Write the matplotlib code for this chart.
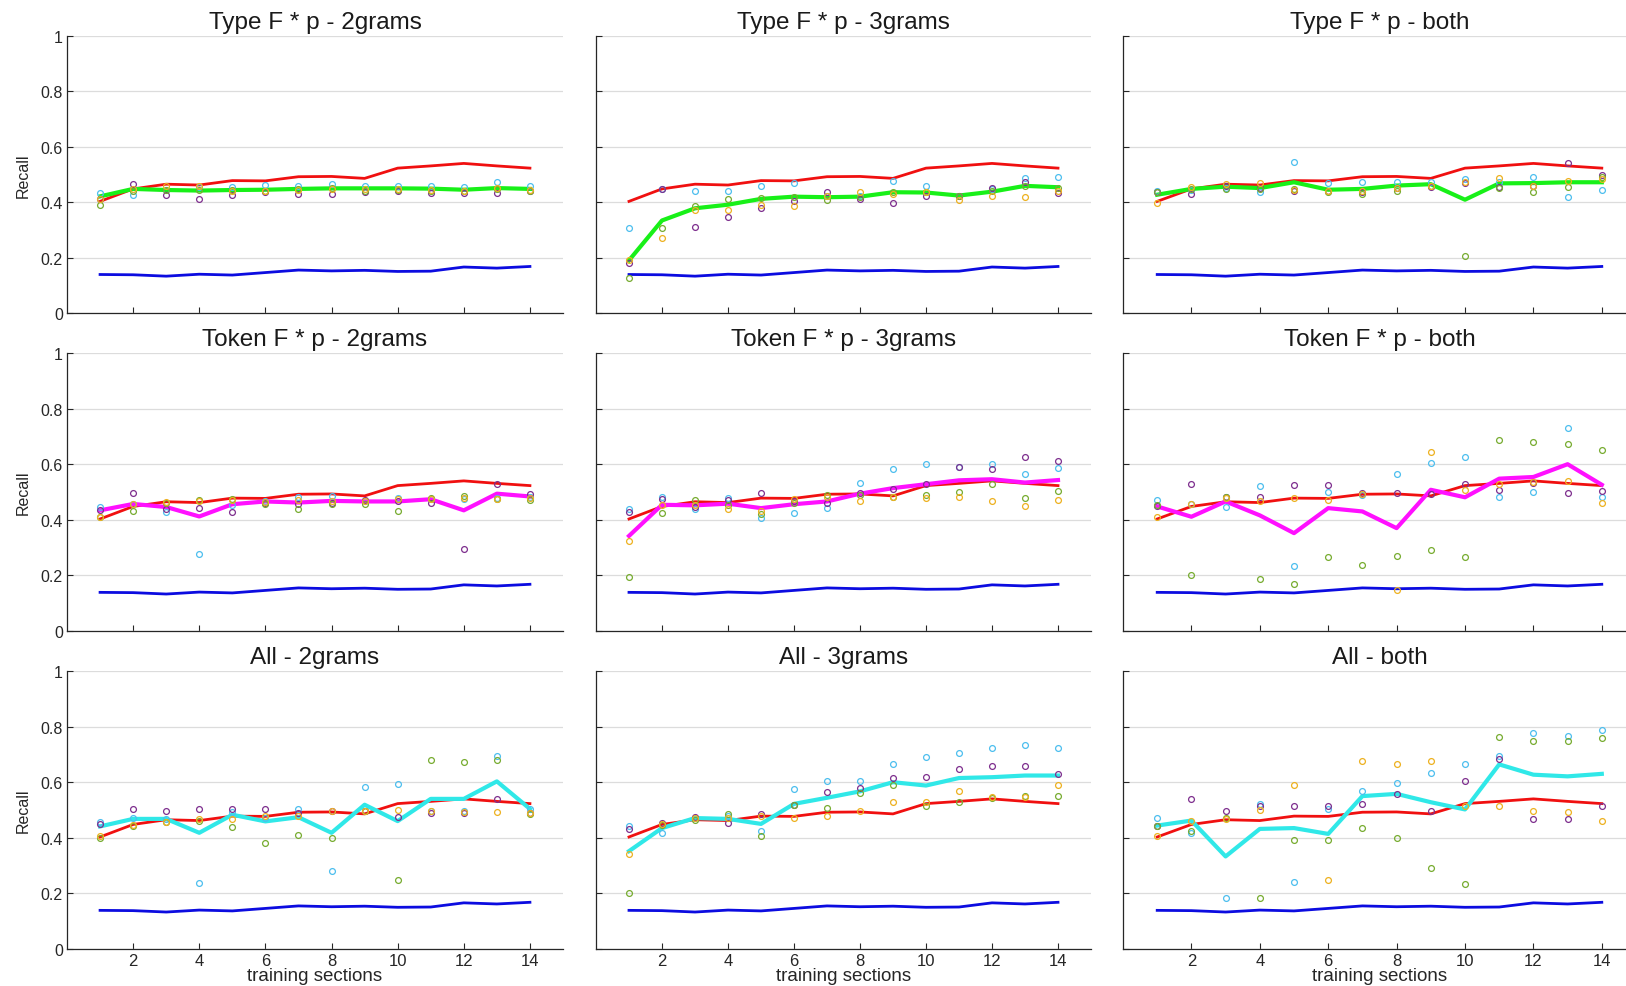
import matplotlib
matplotlib.use("Agg")
import matplotlib.pyplot as plt
import numpy as np

plt.rcParams['font.family'] = ['Liberation Sans', 'DejaVu Sans']

# ---------------- data ----------------
sections = list(range(1, 15))

baseline_red = [.403, .448, .465, .462, .478, .477, .492, .493, .486, .523, .531, .540, .531, .523]
baseline_blue = [.139, .138, .133, .140, .137, .146, .155, .152, .154, .150, .151, .166, .162, .168]

titles = ["Type F * p - 2grams", "Type F * p - 3grams", "Type F * p - both",
          "Token F * p - 2grams", "Token F * p - 3grams", "Token F * p - both",
          "All - 2grams", "All - 3grams", "All - both"]

# main (mean) lines
type_2g_mean = [.421, .448, .444, .442, .444, .445, .448, .450, .450, .450, .449, .445, .451, .448]
type_3g_mean = [.19, .334, .378, .391, .412, .42, .418, .42, .436, .435, .424, .438, .459, .454]
type_both_mean = [.427, .448, .456, .451, .472, .445, .448, .46, .465, .409, .468, .469, .472, .472]
tok_2g_mean = [.434, .457, .446, .412, .456, .466, .462, .468, .466, .466, .474, .434, .494, .484]
tok_3g_mean = [.342, .454, .452, .458, .442, .456, .466, .494, .514, .528, .542, .546, .534, .543]
tok_both_mean = [.448, .411, .466, .416, .352, .442, .43, .37, .508, .481, .548, .554, .6, .526]
all_2g_mean = [.441, .468, .468, .418, .483, .459, .474, .418, .519, .46, .54, .54, .603, .504]
all_3g_mean = [.352, .435, .471, .468, .45, .522, .544, .567, .6, .588, .615, .618, .624, .624]
all_both_mean = [.444, .462, .333, .432, .435, .414, .55, .558, .528, .502, .664, .627, .621, .63]

# individual runs (light blue, purple, green, orange)
type_2g_lb = [.432, .426, .445, .454, .456, .463, .46, .465, .46, .458, .46, .454, .474, .457]
type_2g_pu = [.412, .465, .426, .412, .426, .436, .43, .43, .438, .442, .433, .433, .433, .442]
type_2g_gr = [.389, .44, .445, .445, .444, .44, .448, .45, .442, .445, .442, .442, .448, .44]
type_2g_or = [.41, .448, .46, .46, .442, .442, .445, .448, .448, .448, .445, .44, .45, .445]

type_3g_lb = [.306, .448, .442, .442, .46, .468, .424, .424, .475, .46, .424, .448, .487, .492]
type_3g_pu = [.18, .448, .311, .348, .38, .406, .438, .412, .397, .421, .421, .45, .474, .433]
type_3g_gr = [.126, .306, .388, .412, .415, .418, .409, .418, .438, .436, .424, .442, .46, .45]
type_3g_or = [.19, .27, .373, .373, .39, .388, .424, .436, .43, .436, .408, .421, .417, .442]

type_both_lb = [.439, .445, .45, .438, .544, .468, .474, .474, .472, .484, .472, .49, .418, .445]
type_both_pu = [.436, .43, .46, .45, .442, .44, .436, .45, .454, .468, .455, .457, .54, .5]
type_both_gr = [.438, .448, .448, .446, .448, .438, .43, .442, .458, .204, .45, .438, .454, .49]
type_both_or = [.397, .454, .467, .469, .445, .44, .44, .452, .46, .474, .486, .458, .478, .484]

tok_2g_lb = [.446, .456, .428, .278, .452, .466, .482, .484, .466, .48, .474, .476, .478, .482]
tok_2g_pu = [.434, .496, .44, .442, .428, .46, .456, .462, .47, .468, .462, .296, .53, .494]
tok_2g_gr = [.41, .43, .46, .47, .476, .456, .438, .456, .456, .43, .48, .484, .476, .47]
tok_2g_or = [.41, .456, .464, .466, .47, .465, .47, .468, .466, .475, .474, .48, .476, .478]

tok_3g_lb = [.44, .482, .44, .48, .408, .426, .444, .532, .582, .602, .59, .602, .565, .586]
tok_3g_pu = [.428, .476, .445, .47, .496, .466, .462, .496, .512, .53, .59, .582, .627, .61]
tok_3g_gr = [.193, .426, .47, .455, .422, .46, .488, .488, .482, .488, .5, .53, .48, .504]
tok_3g_or = [.324, .455, .452, .44, .43, .476, .482, .468, .482, .48, .482, .466, .45, .47]

tok_both_lb = [.47, .456, .446, .52, .234, .5, .488, .566, .606, .627, .482, .5, .73, .482]
tok_both_pu = [.448, .528, .482, .482, .524, .524, .496, .496, .492, .528, .508, .532, .496, .504]
tok_both_gr = [.452, .2, .482, .188, .168, .266, .239, .27, .29, .266, .688, .68, .671, .651]
tok_both_or = [.41, .456, .478, .466, .478, .47, .494, .149, .643, .508, .53, .535, .54, .462]

all_2g_lb = [.456, .47, .466, .238, .492, .47, .504, .279, .582, .594, .495, .495, .693, .504]
all_2g_pu = [.448, .504, .496, .504, .504, .504, .49, .496, .496, .474, .49, .489, .54, .49]
all_2g_gr = [.401, .444, .456, .459, .438, .382, .41, .4, .495, .25, .681, .672, .681, .486]
all_2g_or = [.405, .446, .458, .468, .468, .478, .478, .496, .498, .5, .498, .492, .492, .489]

all_3g_lb = [.442, .418, .47, .48, .426, .574, .606, .606, .664, .69, .705, .723, .735, .723]
all_3g_pu = [.43, .453, .474, .453, .484, .519, .564, .579, .615, .619, .648, .66, .657, .63]
all_3g_gr = [.2, .446, .465, .486, .408, .519, .508, .562, .591, .516, .528, .543, .55, .55]
all_3g_or = [.34, .448, .47, .47, .478, .472, .48, .498, .528, .528, .567, .546, .546, .591]

all_both_lb = [.472, .417, .184, .52, .242, .504, .568, .598, .634, .664, .693, .778, .766, .789]
all_both_pu = [.444, .54, .496, .513, .513, .513, .52, .558, .498, .603, .684, .467, .467, .516]
all_both_gr = [.444, .426, .47, .184, .393, .393, .435, .4, .291, .234, .762, .75, .75, .759]
all_both_or = [.406, .462, .468, .5, .591, .25, .676, .667, .676, .516, .513, .496, .492, .46]

y_ticks = [0, 0.2, 0.4, 0.6, 0.8, 1]
y_tick_labels = ['0', '0.2', '0.4', '0.6', '0.8', '1']
x_ticks = [2, 4, 6, 8, 10, 12, 14]

# ---------------- assembly ----------------
means = [type_2g_mean, type_3g_mean, type_both_mean,
         tok_2g_mean, tok_3g_mean, tok_both_mean,
         all_2g_mean, all_3g_mean, all_both_mean]
runs = [
    [type_2g_lb, type_2g_pu, type_2g_gr, type_2g_or],
    [type_3g_lb, type_3g_pu, type_3g_gr, type_3g_or],
    [type_both_lb, type_both_pu, type_both_gr, type_both_or],
    [tok_2g_lb, tok_2g_pu, tok_2g_gr, tok_2g_or],
    [tok_3g_lb, tok_3g_pu, tok_3g_gr, tok_3g_or],
    [tok_both_lb, tok_both_pu, tok_both_gr, tok_both_or],
    [all_2g_lb, all_2g_pu, all_2g_gr, all_2g_or],
    [all_3g_lb, all_3g_pu, all_3g_gr, all_3g_or],
    [all_both_lb, all_both_pu, all_both_gr, all_both_or],
]
run_colors = ['#4DBEEE', '#7E2F8E', '#77AC30', '#EDB120']
mean_colors = ['#18F018'] * 3 + ['#FF10FF'] * 3 + ['#30E8E8'] * 3

W, H = 1626, 987
fig = plt.figure(figsize=(W / 100, H / 100), dpi=100)

col_left = [67, 596, 1123]
col_width = [496, 495, 513]
row_top = [37, 354, 672]
row_height = [277, 278, 278]

axis_color = '#262626'

for i in range(9):
    r, c = divmod(i, 3)
    left = col_left[c] / W
    bottom = 1 - (row_top[r] + row_height[r]) / H
    ax = fig.add_axes([left, bottom, col_width[c] / W, row_height[r] / H])

    ax.plot(sections, baseline_red, color='#F01010', lw=2.0, zorder=3)
    ax.plot(sections, baseline_blue, color='#0C0CE0', lw=2.0, zorder=3)
    ax.plot(sections, means[i], color=mean_colors[i], lw=3.0, zorder=3)
    for vals, col in zip(runs[i], run_colors):
        ax.plot(sections, vals, linestyle='none', marker='o', markersize=4.2,
                markerfacecolor='none', markeredgecolor=col, markeredgewidth=0.9,
                zorder=4)

    ax.set_xlim(0, 15)
    ax.set_ylim(0, 1)
    ax.set_yticks(y_ticks)
    ax.set_xticks(x_ticks)
    ax.grid(axis='y', color='#DCDCDC', lw=0.9, zorder=0)
    ax.set_axisbelow(True)
    for s in ['top', 'right']:
        ax.spines[s].set_visible(False)
    for s in ['left', 'bottom']:
        ax.spines[s].set_color(axis_color)
        ax.spines[s].set_linewidth(0.9)
    ax.tick_params(direction='in', length=4, width=0.8, color=axis_color,
                   labelcolor=axis_color, pad=3)
    ax.tick_params(axis='x', labelsize=12)
    ax.tick_params(axis='y', labelsize=11.5)

    ax.set_title(titles[i], fontsize=17.5, pad=6, color='#1a1a1a')

    if c == 0:
        ax.set_yticklabels(y_tick_labels)
        ax.set_ylabel('Recall', fontsize=11.5, color=axis_color, labelpad=7)
    else:
        ax.set_yticklabels([])
    if r == 2:
        ax.set_xticklabels([str(t) for t in x_ticks])
        ax.set_xlabel('training sections', fontsize=13.5, color=axis_color, labelpad=-1)
    else:
        ax.set_xticklabels([])

fig.savefig('out.png', dpi=100)
